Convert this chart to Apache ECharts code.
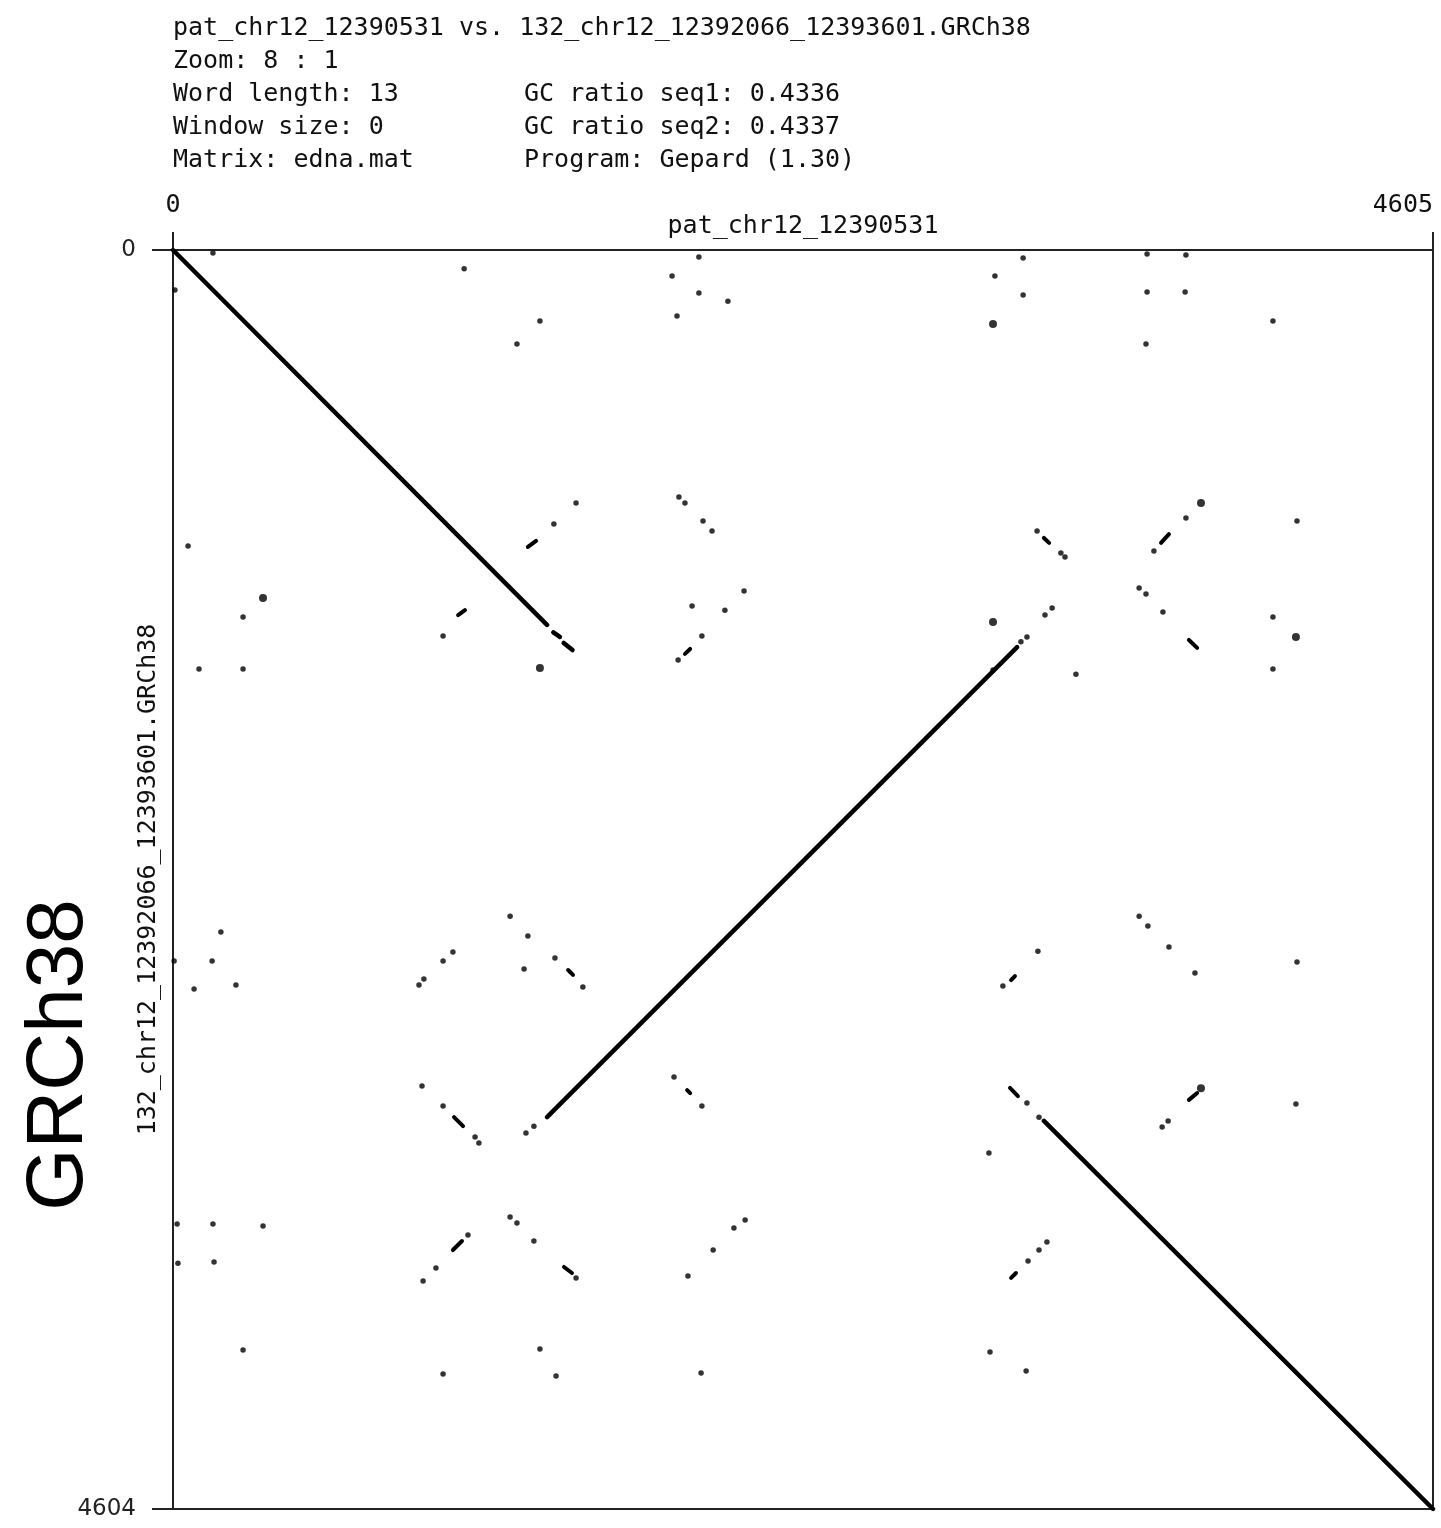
<!DOCTYPE html>
<html>
<head>
<meta charset="utf-8">
<script src="https://cdn.jsdelivr.net/npm/echarts@6/dist/echarts.min.js"></script>
<style>
html,body{margin:0;padding:0;background:#fff;}
#chart{width:1441px;height:1528px;}
</style>
</head>
<body>
<div id="chart"></div>
<script>
// ---- Data (sequence coordinates) ----
const seqXName = 'pat_chr12_12390531';
const seqYName = '132_chr12_12392066_12393601.GRCh38';
const seqXLength = 4605;
const seqYLength = 4604;
const xTickLabels = ['0', '4605'];
const yTickLabels = ['0', '4604'];
const headerLeft = [
  'pat_chr12_12390531 vs. 132_chr12_12392066_12393601.GRCh38',
  'Zoom: 8 : 1',
  'Word length: 13',
  'Window size: 0',
  'Matrix: edna.mat'
];
const headerRight = ['', '', 'GC ratio seq1: 0.4336', 'GC ratio seq2: 0.4337', 'Program: Gepard (1.30)'];
const sideTitle = 'GRCh38';

// long alignments [x1, y1, x2, y2]
const mainLines = [
  [0, 0, 1367, 1371],
  [1390, 1398, 1414, 1415],
  [1428, 1437, 1460, 1463],
  [1367, 3171, 3085, 1452],
  [3183, 3185, 4605, 4604]
];
// short matches [x1, y1, x2, y2]
const segments = [
  [1297, 1086, 1327, 1064],
  [1042, 1335, 1067, 1317],
  [3183, 1053, 3202, 1071],
  [1871, 1477, 1890, 1459],
  [3611, 1071, 3640, 1039],
  [3713, 1426, 3743, 1455],
  [1444, 2633, 1462, 2651],
  [1027, 3171, 1060, 3204],
  [1023, 3657, 1056, 3624],
  [1429, 3719, 1458, 3741],
  [3063, 2670, 3077, 2655],
  [1879, 3072, 1890, 3083],
  [3059, 3064, 3088, 3094],
  [3063, 3759, 3081, 3741],
  [3713, 3108, 3743, 3083]
];
// isolated hits [x, y]
const dots = [
  [146, 11], [7, 146], [1064, 69], [1341, 260], [1257, 344],
  [1922, 26], [1824, 95], [1922, 157], [2028, 187], [1842, 241],
  [3107, 29], [3004, 95], [3107, 165],
  [3560, 15], [3702, 18], [3560, 154], [3699, 154], [4020, 260], [3556, 344],
  [1473, 925], [1392, 1002], [55, 1082], [256, 1342], [987, 1412],
  [95, 1532], [256, 1532],
  [1849, 903], [1871, 925], [1937, 991], [1970, 1028],
  [3158, 1028], [3245, 1108], [3260, 1123],
  [2087, 1247], [1897, 1302], [2017, 1317], [1933, 1412], [1846, 1499],
  [3187, 1335], [3213, 1309], [3300, 1551], [3099, 1433], [3121, 1415], [2997, 1536],
  [3702, 980], [4108, 991], [3585, 1101], [3531, 1236], [3556, 1258], [3618, 1324],
  [4020, 1342], [4020, 1532],
  [175, 2494], [4, 2600], [143, 2600], [77, 2702], [230, 2688],
  [1232, 2436], [1297, 2509], [1023, 2567], [987, 2600], [1396, 2589], [1283, 2629],
  [1498, 2695], [917, 2666], [899, 2688],
  [910, 3057], [987, 3130], [1104, 3244], [1118, 3266], [1290, 3229], [1319, 3204],
  [15, 3562], [146, 3562], [329, 3569], [18, 3705], [150, 3701],
  [1232, 3536], [1257, 3558], [1319, 3624], [1078, 3602], [961, 3723], [914, 3770], [1473, 3759],
  [3161, 2564], [3033, 2691],
  [1831, 3024], [1933, 3130], [3121, 3119], [3165, 3171], [2982, 3302],
  [2091, 3547], [2050, 3576], [1974, 3657], [1882, 3752],
  [3194, 3628], [3165, 3657], [3125, 3697],
  [3531, 2436], [3563, 2472], [3640, 2549], [3735, 2644], [4108, 2604],
  [3637, 3185], [3615, 3207], [4104, 3123],
  [256, 4023], [987, 4110], [1341, 4019], [1400, 4118], [1930, 4107], [2986, 4030], [3118, 4099]
];
const bigDots = [
  [329, 1273], [1341, 1529], [2997, 271], [2997, 1360], [3757, 925], [4104, 1415],
  [3757, 3065]
];

// ---- Chart ----
const chart = echarts.init(document.getElementById('chart'), null, {renderer: 'canvas'});
const mono = 'DejaVu Sans Mono';
const toLines = arr => arr.map(s => ({coords: [[s[0], s[1]], [s[2], s[3]]]}));

const graphics = [];
headerLeft.forEach((t, i) => {
  graphics.push({type: 'text', left: 173, top: 16 + i * 33,
    style: {text: t, font: '25px "' + mono + '"', fill: '#111'}});
});
headerRight.forEach((t, i) => {
  if (!t) return;
  graphics.push({type: 'text', left: 524, top: 16 + i * 33,
    style: {text: t, font: '25px "' + mono + '"', fill: '#111'}});
});
graphics.push({type: 'text', x: 60, y: 1055, rotation: Math.PI / 2,
  style: {text: sideTitle, font: '80px "Liberation Sans"', fill: '#000',
    textAlign: 'center', textVerticalAlign: 'middle'}});

chart.setOption({
  animation: false,
  backgroundColor: '#fff',
  grid: {left: 173, top: 250, width: 1260, height: 1259, show: true,
    outerBoundsMode: 'none', containLabel: false,
    borderColor: '#222', borderWidth: 2, backgroundColor: '#fff'},
  xAxis: {
    type: 'value', position: 'top', min: 0, max: seqXLength, interval: seqXLength,
    name: seqXName, nameLocation: 'middle', nameGap: 24, nameMoveOverlap: false,
    nameTextStyle: {fontFamily: mono, fontSize: 25, color: '#111', verticalAlign: 'middle'},
    axisLine: {show: true, lineStyle: {color: '#222', width: 2}},
    axisTick: {show: true, length: 18, lineStyle: {color: '#222', width: 2}},
    axisLabel: {show: true, margin: 32, fontFamily: mono, fontSize: 25, color: '#111',
      formatter: v => v === 0 ? xTickLabels[0] : xTickLabels[1],
      alignMinLabel: 'center', alignMaxLabel: 'right'},
    splitLine: {show: false}
  },
  yAxis: {
    type: 'value', inverse: true, min: 0, max: seqYLength, interval: seqYLength,
    name: seqYName, nameLocation: 'middle', nameGap: 25, nameRotate: 90, nameMoveOverlap: false,
    nameTextStyle: {fontFamily: mono, fontSize: 25, color: '#111', verticalAlign: 'middle'},
    axisLine: {show: true, lineStyle: {color: '#222', width: 2}},
    axisTick: {show: true, length: 21, lineStyle: {color: '#222', width: 2}},
    axisLabel: {show: true, margin: 37, fontFamily: 'DejaVu Sans', fontSize: 23, color: '#222',
      formatter: v => v === 0 ? yTickLabels[0] : yTickLabels[1]},
    splitLine: {show: false}
  },
  series: [
    {type: 'lines', coordinateSystem: 'cartesian2d', silent: true,
      lineStyle: {color: '#000', width: 4.5, opacity: 1, cap: 'round'},
      data: toLines(mainLines)},
    {type: 'lines', coordinateSystem: 'cartesian2d', silent: true,
      lineStyle: {color: '#000', width: 4, opacity: 1, cap: 'round'},
      data: toLines(segments)},
    {type: 'scatter', silent: true, symbol: 'circle', symbolSize: 5.5,
      itemStyle: {color: '#000'}, data: dots},
    {type: 'scatter', silent: true, symbol: 'circle', symbolSize: 8,
      itemStyle: {color: '#000'}, data: bigDots}
  ],
  graphic: graphics
});
</script>
</body>
</html>
